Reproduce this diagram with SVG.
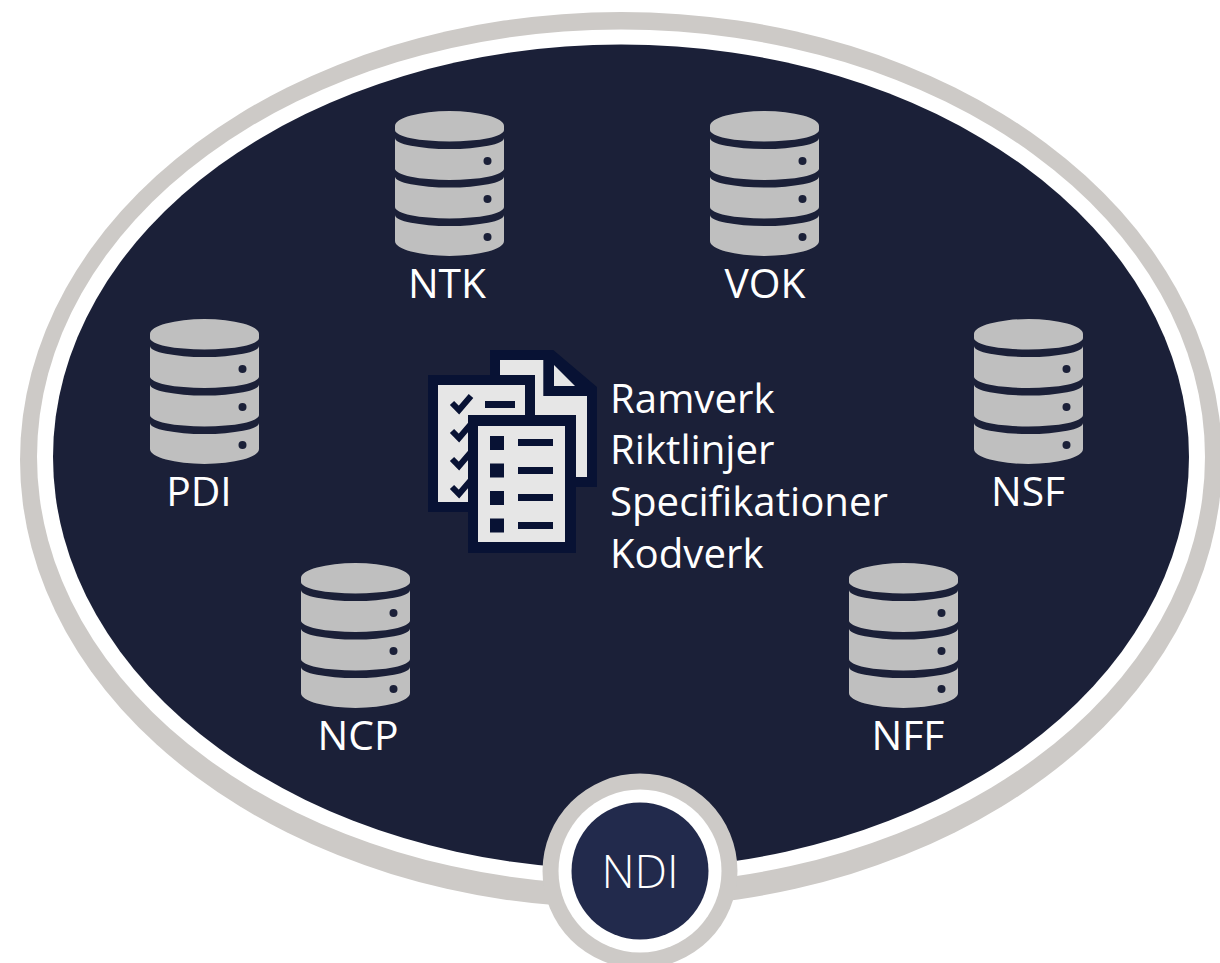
<svg xmlns="http://www.w3.org/2000/svg" xmlns:xlink="http://www.w3.org/1999/xlink" width="1220" height="963" viewBox="0 0 1220 963">
<style>
text{font-family:"Open Sans","Noto Sans","Liberation Sans",sans-serif;font-size:40.200px;fill:#fff}
.c{text-anchor:middle;font-size:40.800px}
.big{font-size:46px;font-weight:300}
.body{fill:#bfbfbf}
.band{fill:#1b2038}
.dot{fill:#1b2038}
.ik{fill:#081234}
.pg{fill:#e6e6e6}
</style>
<defs>
<g id="db">
<path class="body" d="M0,15A54.5,15 0 0 1 109,15V130A54.5,15 0 0 1 0,130Z"/>
<path class="band" d="M0,19A54.5,11.500 0 0 0 109,19V27A54.5,11 0 0 1 0,27Z"/>
<path class="band" d="M0,57.500A54.5,11.500 0 0 0 109,57.500V65.500A54.5,11 0 0 1 0,65.500Z"/>
<path class="band" d="M0,96A54.5,11.500 0 0 0 109,96V104A54.5,11 0 0 1 0,104Z"/>
<circle class="dot" cx="92.500" cy="50" r="4"/><circle class="dot" cx="92.500" cy="88" r="4"/><circle class="dot" cx="92.500" cy="126" r="4"/>
</g>
</defs>
<rect width="1220" height="963" fill="#fff"/>
<g id="boundary">
<ellipse cx="621" cy="460" rx="601" ry="448" fill="#cdcac7"/>
<ellipse cx="621" cy="457" rx="584" ry="427.500" fill="#fff"/>
<ellipse cx="621" cy="457" rx="568" ry="412.500" fill="#1b2038"/>
</g>
<g id="connectors"/>
<g id="NTK"><use xlink:href="#db" href="#db" x="395" y="111"/><text class="c" x="447" y="298">NTK</text></g>
<g id="VOK"><use xlink:href="#db" href="#db" x="710" y="111"/><text class="c" x="765" y="298">VOK</text></g>
<g id="PDI"><use xlink:href="#db" href="#db" x="150" y="319"/><text class="c" x="199" y="506">PDI</text></g>
<g id="NSF"><use xlink:href="#db" href="#db" x="974" y="319"/><text class="c" x="1028" y="506">NSF</text></g>
<g id="NCP"><use xlink:href="#db" href="#db" x="301" y="563"/><text class="c" x="358" y="750">NCP</text></g>
<g id="NFF"><use xlink:href="#db" href="#db" x="849" y="563"/><text class="c" x="908" y="750">NFF</text></g>
<g id="documents">
<path class="ik" d="M490,350H553.300L597,387V487H575V553H468V512H428V375H490Z"/>
<path class="pg" d="M500,360H543.300V396H587V477H500Z"/>
<path class="pg" d="M554,365L575,386H554Z"/>
<path class="ik" d="M428,375H535V415H576V553H468V512H428Z"/>
<path class="pg" d="M438,385H525V415H468V502H438Z"/>
<path class="ik" d="M485,401H515V408H485Z"/>
<path d="M452,403L459,410L471,396M452,431L459,438L471,424M452,459L459,466L471,452M452,487L459,494L471,480" fill="none" stroke="#081234" stroke-width="6"/>
<path class="ik" d="M468,415H575V553H468Z"/>
<path class="pg" d="M478,426H565V542H478Z"/>
<path class="ik" d="M490,436H504V450H490ZM518,439H553V446H518ZM490,463.500H504V477.500H490ZM518,467H553V474H518ZM490,491H504V505H490ZM518,494H553V501H518ZM490,518.500H504V532.500H490ZM518,522H553V529H518Z"/>
</g>
<g id="list">
<text x="610" y="413">Ramverk</text>
<text x="610" y="464">Riktlinjer</text>
<text x="610" y="516">Specifikationer</text>
<text x="610" y="568">Kodverk</text>
</g>
<g id="NDI">
<circle cx="640" cy="871" r="97.500" fill="#cdcac7"/>
<circle cx="640" cy="871" r="81.500" fill="#fff"/>
<circle cx="640" cy="871" r="68.500" fill="#222a4c"/>
<text class="c big" x="640" y="888">NDI</text>
</g>
</svg>
